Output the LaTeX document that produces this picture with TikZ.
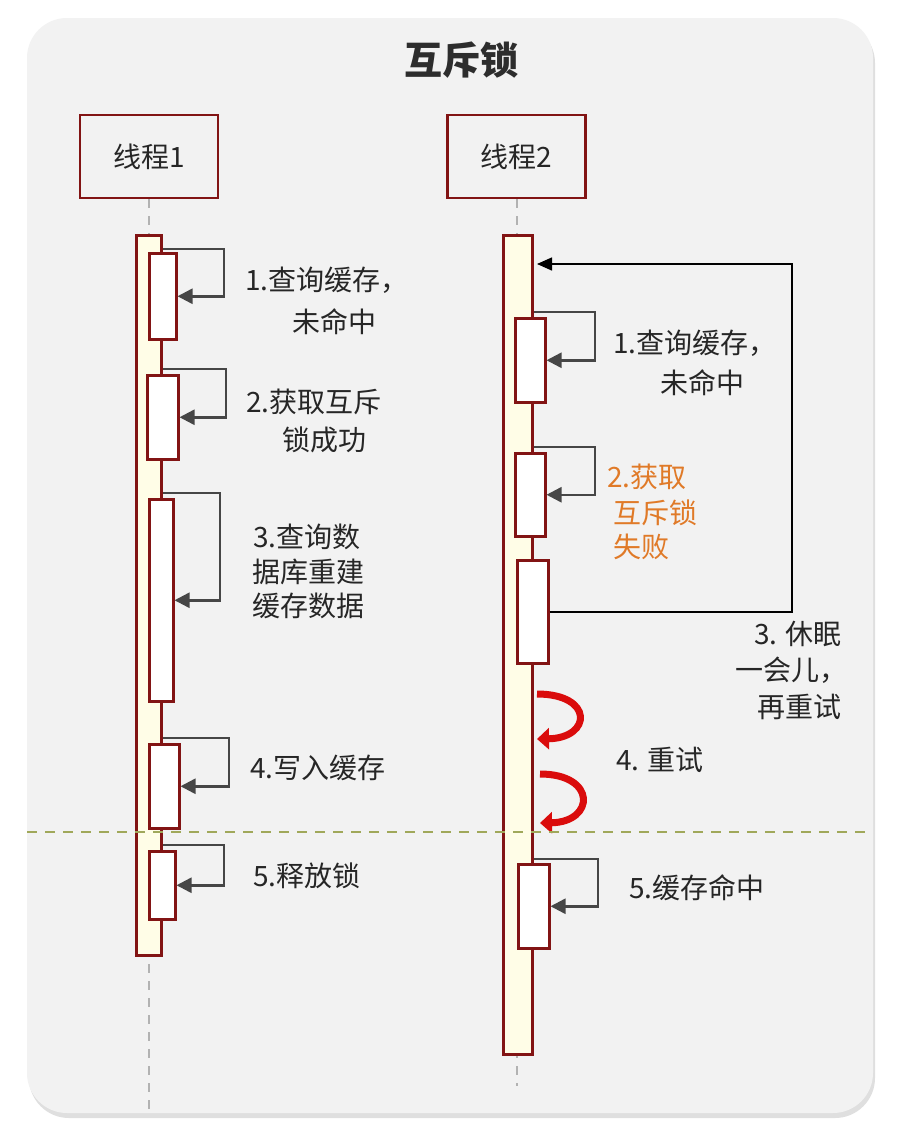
\documentclass[tikz,border=0pt]{standalone}
\usepackage{fontspec}
\newfontfamily\cjk{Noto Sans CJK SC}
\usetikzlibrary{arrows.meta,shadows}
\definecolor{panelbg}{RGB}{242,242,242}
\definecolor{dred}{RGB}{130,20,20}
\definecolor{barfill}{RGB}{255,253,231}
\definecolor{arrgray}{RGB}{70,70,70}
\definecolor{txt}{RGB}{38,38,38}
\definecolor{orangetxt}{RGB}{224,122,40}
\definecolor{olive}{RGB}{160,168,90}
\definecolor{lifegray}{RGB}{178,178,178}
\definecolor{retryred}{RGB}{218,12,12}
\begin{document}
\begin{tikzpicture}[x=1pt,y=-1pt,
  threadbox/.style={draw=dred, line width=2.5pt, fill=panelbg, minimum width=138pt, minimum height=83pt, inner sep=0pt, font=\cjk\fontsize{28}{32}\selectfont, text=txt},
  barbox/.style={draw=dred, line width=2.5pt, fill=barfill, inner sep=0pt, anchor=north west},
  actbox/.style={draw=dred, line width=2.5pt, fill=white, inner sep=0pt, anchor=north west},
  selfarr/.style={draw=arrgray, line width=2.5pt, -{Triangle[length=15pt,width=15pt]}},
  looparr/.style={draw=black, line width=1.5pt, -{Triangle[length=15pt,width=13pt]}},
  lifeline/.style={draw=lifegray, line width=2pt, dash pattern=on 9pt off 8pt},
  sepline/.style={draw=olive, line width=2.5pt, dash pattern=on 10pt off 8pt},
  retry/.style={draw=retryred, line width=7pt, -{Triangle[length=12pt,width=21pt]}},
  lbl/.style={font=\cjk\fontsize{28}{32}\selectfont, text=txt, inner sep=0pt, anchor=base west},
  lblr/.style={lbl, anchor=base east},
  olbl/.style={lbl, text=orangetxt}
]
\useasboundingbox (0,0) rectangle (901,1143);
\fill[white] (0,0) rectangle (901,1143);
% panel
\fill[panelbg, rounded corners=40pt, drop shadow={opacity=0.25, shadow xshift=2pt, shadow yshift=-5pt}] (27,18) rectangle (873,1113);
% title
\node[font=\cjk\bfseries\fontsize{38}{44}\selectfont, text={rgb,255:red,45;green,45;blue,45}] (title) at (461,60) {互斥锁};
% thread headers
\node[threadbox] (t1) at (149,156.5) {线程1};
\node[threadbox] (t2) at (516.5,156.5) {线程2};
% lifelines
\coordinate (t1end) at (149,1113);
\coordinate (t2end) at (516.5,1086);
\draw[lifeline] (t1.south) -- (t1end);
\draw[lifeline] (t2.south) -- (t2end);
% bars
\node[barbox, minimum width=25pt, minimum height=720pt] (bar1) at (135,234) {};
\node[barbox, minimum width=29pt, minimum height=819pt] (bar2) at (502,234) {};
% thread 1 activation boxes
\node[actbox, minimum width=27pt, minimum height=86pt] (a1) at (148,252) {};
\node[actbox, minimum width=31pt, minimum height=84pt] (a2) at (146,374) {};
\node[actbox, minimum width=24pt, minimum height=202pt] (a3) at (148,498) {};
\node[actbox, minimum width=30pt, minimum height=84pt] (a4) at (148,743) {};
\node[actbox, minimum width=26pt, minimum height=68pt] (a5) at (148,850) {};
% thread 2 activation boxes
\node[actbox, minimum width=30pt, minimum height=84pt] (b1) at (514,317) {};
\node[actbox, minimum width=30pt, minimum height=83pt] (b2) at (514,452) {};
\node[actbox, minimum width=31pt, minimum height=103pt] (b3) at (516,559) {};
\node[actbox, minimum width=31pt, minimum height=84pt] (b5) at (517,863) {};
% self arrows thread 1
\draw[selfarr] (bar1.east |- 0,249) -- (224,249) |- (a1.east);
\draw[selfarr] (bar1.east |- 0,369) -- (226,369) |- (a2.east);
\draw[selfarr] (bar1.east |- 0,493) -- (220,493) |- (a3.east);
\draw[selfarr] (bar1.east |- 0,738) -- (229,738) |- (a4.east);
\draw[selfarr] (bar1.east |- 0,845) -- (224,845) |- (a5.east);
% self arrows thread 2
\draw[selfarr] (bar2.east |- 0,312) -- (595,312) |- (b1.east);
\draw[selfarr] (bar2.east |- 0,447) -- (595,447) |- (b2.east);
\draw[selfarr] (bar2.east |- 0,859) -- (598,859) |- (b5.east);
% sleep and retry loop
\coordinate (loopend) at (537,264);
\draw[looparr] (b3.east) -| (792,264) -- (loopend);
% retry arrows
\coordinate (r1s) at (537,694);
\coordinate (r1e) at (537,739);
\coordinate (r2s) at (540,774);
\coordinate (r2e) at (540,823);
\draw[retry] (r1s) .. controls (594,694) and (592,738) .. (r1e);
\draw[retry] (r2s) .. controls (597,774) and (595,822) .. (r2e);
% labels thread 1
\node[lbl] (l11) at (245,290) {1.查询缓存，};
\node[lbl] (l12) at (292,332) {未命中};
\node[lbl] (l21) at (246,412) {2.获取互斥};
\node[lbl] (l22) at (282,450) {锁成功};
\node[lbl] (l31) at (253,547) {3.查询数};
\node[lbl] (l32) at (252,582) {据库重建};
\node[lbl] (l33) at (252,616) {缓存数据};
\node[lbl] (l4) at (250,778) {4.写入缓存};
\node[lbl] (l5) at (253,886) {5.释放锁};
% labels thread 2
\node[lbl] (m11) at (613,353) {1.查询缓存，};
\node[lbl] (m12) at (660,393) {未命中};
\node[olbl] (m21) at (607,487) {2.获取};
\node[olbl] (m22) at (613,523) {互斥锁};
\node[olbl] (m23) at (613,557) {失败};
\node[lblr] (m31) at (842,644) {3. 休眠};
\node[lblr] (m32) at (848,680) {一会儿，};
\node[lblr] (m33) at (842,717) {再重试};
\node[lbl] (m4) at (616,770) {4. 重试};
\node[lbl] (m5) at (629,898) {5.缓存命中};
% separator
\draw[sepline] (27,832) -- (867,832);
\end{tikzpicture}
\end{document}
